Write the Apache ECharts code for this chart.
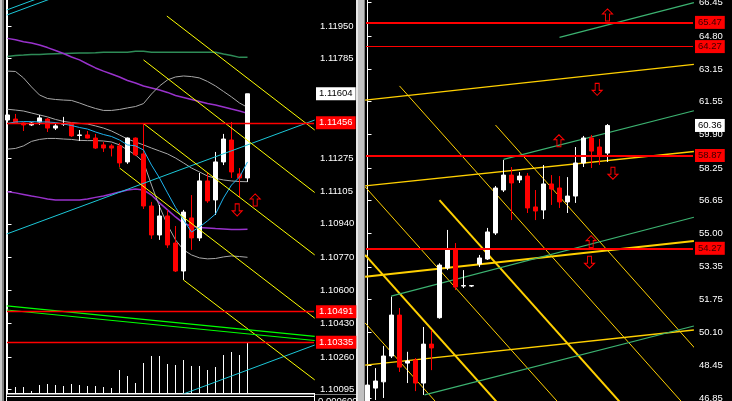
<!DOCTYPE html>
<html><head><meta charset="utf-8">
<script src="https://cdn.jsdelivr.net/npm/echarts@6/dist/echarts.min.js"></script>
<style>html,body{margin:0;padding:0;background:#000;overflow:hidden}#c{width:732px;height:401px}</style>
</head><body><div id="c"></div>
<script>
// ================= LEFT PANE DATA (price ~1.10-1.12) =================
const leftOpen  = [1.11470,1.11475,1.11455,1.11445,1.11460,1.11475,1.11429,1.11450,1.11455,1.11391,1.11394,1.11378,1.11343,1.11338,1.11338,1.11256,1.11378,1.11297,1.11031,1.10883,1.10980,1.10842,1.10699,1.10970,1.10868,1.11159,1.11062,1.11256,1.11368,1.11195,1.11174];
const leftClose = [1.11496,1.11455,1.11445,1.11455,1.11481,1.11429,1.11440,1.11451,1.11389,1.11394,1.11378,1.11327,1.11327,1.11327,1.11251,1.11378,1.11292,1.11031,1.10883,1.10980,1.10832,1.10699,1.11000,1.10868,1.11159,1.11057,1.11256,1.11373,1.11205,1.11174,1.11604];
const leftLow   = [1.11465,1.11452,1.11414,1.11440,1.11445,1.11409,1.11419,1.11440,1.11384,1.11363,1.11376,1.11322,1.11307,1.11284,1.11230,1.11246,1.11286,1.11016,1.10863,1.10858,1.10817,1.10694,1.10653,1.10807,1.10852,1.11047,1.10985,1.11240,1.11174,1.11077,1.11154];
const leftHigh  = [1.11506,1.11501,1.11460,1.11460,1.11496,1.11481,1.11455,1.11486,1.11457,1.11419,1.11414,1.11399,1.11358,1.11348,1.11353,1.11381,1.11381,1.11455,1.11052,1.11036,1.11011,1.10929,1.11011,1.11087,1.11200,1.11200,1.11307,1.11399,1.11460,1.11225,1.11604];
const leftVolume = [100,60,60,20,80,90,80,70,90,80,70,70,60,50,230,170,100,300,370,370,290,280,330,270,270,230,260,380,410,380,510];
// indicator lines (one value per candle)
const leftMaPurpleHigh = [1.11887,1.11880,1.11870,1.11863,1.11853,1.11840,1.11825,1.11810,1.11792,1.11777,1.11756,1.11736,1.11720,1.11705,1.11690,1.11672,1.11659,1.11644,1.11634,1.11623,1.11611,1.11595,1.11585,1.11575,1.11565,1.11554,1.11547,1.11537,1.11526,1.11516,1.11504];
const leftMaGreen = [1.11794,1.11800,1.11802,1.11805,1.11805,1.11807,1.11809,1.11810,1.11811,1.11812,1.11812,1.11813,1.11816,1.11816,1.11816,1.11816,1.11821,1.11821,1.11816,1.11816,1.11816,1.11816,1.11816,1.11816,1.11816,1.11816,1.11816,1.11807,1.11800,1.11790,1.11790];
const leftBandUpper = [1.11720,1.11718,1.11685,1.11639,1.11598,1.11580,1.11575,1.11572,1.11570,1.11557,1.11542,1.11529,1.11519,1.11519,1.11524,1.11532,1.11539,1.11554,1.11603,1.11644,1.11675,1.11690,1.11695,1.11692,1.11685,1.11667,1.11644,1.11616,1.11588,1.11557,1.11535];
const leftBandMiddle = [1.11525,1.11521,1.11516,1.11506,1.11496,1.11486,1.11473,1.11463,1.11457,1.11453,1.11450,1.11440,1.11429,1.11414,1.11394,1.11373,1.11358,1.11343,1.11327,1.11312,1.11297,1.11276,1.11251,1.11225,1.11205,1.11184,1.11172,1.11164,1.11159,1.11156,1.11155];
const leftBandLower = [1.11321,1.11325,1.11338,1.11361,1.11371,1.11376,1.11376,1.11373,1.11371,1.11366,1.11365,1.11365,1.11363,1.11358,1.11343,1.11317,1.11292,1.11256,1.11138,1.11028,1.10934,1.10858,1.10807,1.10781,1.10766,1.10761,1.10763,1.10771,1.10776,1.10773,1.10769];
const leftMaBlue = [1.11453,1.11460,1.11462,1.11462,1.11460,1.11460,1.11457,1.11450,1.11442,1.11432,1.11424,1.11409,1.11396,1.11386,1.11368,1.11343,1.11338,1.11317,1.11240,1.11174,1.11098,1.11024,1.10960,1.10898,1.10924,1.10955,1.10990,1.11072,1.11138,1.11179,1.11256];
const leftMaPurpleLow = [1.11104,1.11098,1.11090,1.11082,1.11075,1.11067,1.11062,1.11062,1.11062,1.11062,1.11067,1.11075,1.11082,1.11092,1.11103,1.11113,1.11118,1.11113,1.11087,1.11047,1.11011,1.10975,1.10944,1.10927,1.10921,1.10919,1.10916,1.10914,1.10911,1.10911,1.10912];
// trend lines [x1, price1, x2, price2] in candle index / price units
const leftCyanLines = [[-0.1,1.10888,38.4,1.11470],[16.0,1.09980,38.4,1.10321],[-0.1,1.12006,10,1.12159],[-0.1,1.12032,10,1.12185]];
const leftYellowLines = [[19.92,1.12001,38.4,1.11419],[17.0,1.11777,38.4,1.11100],[17.0,1.11452,38.4,1.10781],[14.0,1.11225,38.4,1.10458],[22.0,1.10653,38.4,1.10143]];
const leftLimeLines = [[-0.1,1.10521,38.4,1.10365],[-0.1,1.10500,38.4,1.10344]];
const leftLevels = [1.11456,1.10491,1.10335];
const leftLastPrice = 1.11604;
const leftTicks = [1.11950,1.11785,1.11275,1.11105,1.10940,1.10770,1.10600,1.10430,1.10260,1.10095];
const leftArrowsUp = [[30.96,1.11062]];
const leftArrowsDown = [[28.71,1.11011]];

// ================= RIGHT PANE DATA (price ~47-66) =================
const rightOpen  = [46.60,47.34,47.65,48.93,50.96,48.58,48.73,47.59,49.52,50.83,53.29,54.23,52.40,52.40,53.49,53.74,55.03,57.16,57.90,57.66,57.85,56.32,56.17,57.46,57.26,56.57,56.86,58.50,59.74,59.29,58.99];
const rightClose = [47.49,47.69,48.93,50.96,48.38,48.68,47.59,49.52,49.33,53.44,54.23,52.35,52.42,52.42,53.79,55.08,57.26,57.90,57.51,57.85,56.27,56.12,57.46,57.21,56.57,56.86,58.50,59.74,59.09,58.85,60.36];
const rightLow   = [46.50,46.75,46.85,48.83,48.14,47.59,47.19,47.00,48.23,50.78,53.19,52.20,52.30,52.35,53.34,53.69,54.93,57.06,55.67,57.51,56.02,55.67,55.72,56.42,56.27,56.02,56.52,58.30,58.25,58.40,58.55];
const rightHigh  = [47.59,48.33,49.43,51.87,51.31,49.14,48.83,50.37,50.22,53.53,55.18,54.53,53.19,52.45,53.94,55.28,57.36,58.65,58.30,58.05,58.00,57.16,58.40,57.90,57.85,57.80,59.29,59.84,59.89,59.69,60.43];
const rightGreenLines = [[24.0,64.73,40.8,66.45],[17.0,58.68,40.8,61.09],[2.96,51.90,40.8,55.81],[7.13,47.00,40.8,50.42]];
const rightGoldRising = [[-0.3,61.62,40.8,63.39],[-0.3,57.36,40.8,59.07],[-0.3,48.48,40.8,50.22]];
const rightGoldRisingThick = [[-0.3,52.86,40.8,54.63]];
const rightGoldFalling = [[16.0,60.38,41,49.28],[4.0,62.32,41,45.89],[-0.3,57.32,41,39.03],[-0.3,50.57,41,32.28]];
const rightGoldFallingThick = [[9.0,56.66,41,42.45],[-0.3,53.94,41,35.65]];
const rightLevels = [65.47,64.27,58.87,54.27];
const rightLevelWidths = [2,1.2,2,2];
const rightLastPrice = 60.36;
const rightTicks = [66.45,64.80,63.15,61.55,59.90,58.25,56.65,55.00,53.35,51.75,50.10,48.45,46.85];
const rightArrowsUp = [[30.0,65.84],[23.93,59.60],[27.96,54.60]];
const rightArrowsDown = [[28.71,62.15],[30.68,57.99],[27.75,53.58]];

// ================= BUILD =================
const FONT = 'Liberation Sans';
const UP = 'path://M5,0L10,5L7,5L7,12L3,12L3,5L0,5Z';
const DOWN = 'path://M3,0L7,0L7,7L10,7L5,12L0,7L3,7Z';
const chart = echarts.init(document.getElementById('c'));

function candles(o,c,l,h){ return o.map((v,i)=>[i,v,c[i],l[i],h[i]]); }
function perCandle(a){ return a.map((v,i)=>[i,v]); }
function lineSeries(xi, data, color, width, z){
  return {type:'line', xAxisIndex:xi, yAxisIndex:xi, data, symbol:'none', silent:true,
    animation:false, clip:true, z:z||4, lineStyle:{color, width}};
}
function segs(xi, list, color, width, z){
  return list.map(s=>lineSeries(xi, [[s[0],s[1]],[s[2],s[3]]], color, width, z));
}
function levelLabel(text,bg,fg){
  return {show:true, position:'end', distance:2, formatter:text, color:fg, backgroundColor:bg,
    padding:[2,3,1,3], fontSize:9.5, fontFamily:FONT};
}
function arrows(list, sym){
  return list.map(a=>({coord:[a[0],a[1]], symbol:sym, symbolSize:[10,12],
    itemStyle:{color:'rgba(0,0,0,0)', borderColor:'#ff0000', borderWidth:1}, label:{show:false}}));
}
function annotations(xi, levels, widths, digits, labelFg, last, up, down){
  return {type:'line', xAxisIndex:xi, yAxisIndex:xi, data:[], symbol:'none', silent:true, animation:false, z:6,
    markLine:{symbol:'none', silent:true, animation:false, precision:digits, data:[
      ...levels.map((v,i)=>({yAxis:v, lineStyle:{color:'#ff0000', width:widths[i], type:'solid'}, label:levelLabel(v.toFixed(digits),'#ff0000',labelFg)})),
      {yAxis:last, lineStyle:{color:'rgba(0,0,0,0)', width:0}, label:levelLabel(last.toFixed(digits),'#ffffff','#000000')}
    ]},
    markPoint:{silent:true, animation:false, precision:digits, data:[...arrows(up,UP), ...arrows(down,DOWN)]}
  };
}

const candleStyle = {color:'#ffffff', color0:'#ff0000', borderColor:'#ffffff', borderColor0:'#ff0000', borderWidth:1};
const axisLabelBase = {color:'#ffffff', fontSize:9.5, fontFamily:FONT, margin:6};

const option = {
  backgroundColor:'#000000',
  animation:false,
  grid:[
    {left:7, top:0, width:307, height:393, containLabel:false, outerBoundsMode:'none'},
    {left:7, top:342, width:307, height:51, containLabel:false, outerBoundsMode:'none'},
    {left:366, top:0, width:327, height:401, containLabel:false, outerBoundsMode:'none'}
  ],
  xAxis:[
    {type:'value', gridIndex:0, min:-0.0625, max:38.3125, axisLine:{show:true, onZero:false, lineStyle:{color:'#fff'}}, axisTick:{show:false}, axisLabel:{show:false}, splitLine:{show:false}},
    {type:'value', gridIndex:1, min:-0.0625, max:38.3125, show:false},
    {type:'value', gridIndex:2, min:-0.1875, max:40.6875, show:false}
  ],
  yAxis:[
    {type:'value', gridIndex:0, position:'right', min:1.10076, max:1.12083, splitLine:{show:false},
     axisLine:{show:true, lineStyle:{color:'#fff'}},
     axisTick:{show:true, length:4, lineStyle:{color:'#fff'}, customValues:leftTicks},
     axisLabel:Object.assign({customValues:leftTicks, formatter:v=>v.toFixed(5)}, axisLabelBase)},
    {type:'value', gridIndex:1, min:0, max:510, show:false},
    {type:'value', gridIndex:2, position:'right', min:46.70, max:66.58, splitLine:{show:false},
     axisLine:{show:true, lineStyle:{color:'#fff'}},
     axisTick:{show:true, length:4, lineStyle:{color:'#fff'}, customValues:rightTicks},
     axisLabel:Object.assign({customValues:rightTicks, formatter:v=>v.toFixed(2)}, axisLabelBase)}
  ],
  series:[]
};

const S = option.series;
// left indicator lines
S.push(lineSeries(0, perCandle(leftMaGreen), '#2e8b57', 1.5, 3));
S.push(lineSeries(0, perCandle(leftMaPurpleHigh), '#9932cc', 1.5, 3));
S.push(lineSeries(0, perCandle(leftMaPurpleLow), '#9932cc', 1.5, 3));
S.push(lineSeries(0, perCandle(leftBandUpper), '#a8a8a8', 1, 3));
S.push(lineSeries(0, perCandle(leftBandMiddle), '#a8a8a8', 1, 3));
S.push(lineSeries(0, perCandle(leftBandLower), '#a8a8a8', 1, 3));
S.push(lineSeries(0, perCandle(leftMaBlue), '#1eb4f0', 1, 4));
S.push(...segs(0, leftCyanLines, '#1cc8d8', 1, 4));
S.push(...segs(0, leftYellowLines, '#ffff00', 1, 4));
S.push(...segs(0, leftLimeLines, '#00ff00', 1.2, 4));
// left candles
S.push({type:'candlestick', xAxisIndex:0, yAxisIndex:0, data:candles(leftOpen,leftClose,leftLow,leftHigh),
  encode:{x:0,y:[1,2,3,4]}, barWidth:5, itemStyle:candleStyle, z:3, silent:true, animation:false});
S.push(annotations(0, leftLevels, [1.4,1.4,1.4], 5, '#ffffff', leftLastPrice, leftArrowsUp, leftArrowsDown));
// left volume
S.push({type:'bar', xAxisIndex:1, yAxisIndex:1, data:perCandle(leftVolume), barWidth:1, itemStyle:{color:'#ffffff'}, silent:true, animation:false});

// right pane lines
S.push(...segs(2, rightGoldFalling, '#ffd000', 1, 3));
S.push(...segs(2, rightGoldFallingThick, '#ffd000', 2, 3));
S.push(...segs(2, rightGoldRising, '#ffd000', 1.3, 3));
S.push(...segs(2, rightGoldRisingThick, '#ffd000', 2, 3));
S.push(...segs(2, rightGreenLines, '#3cb371', 1.2, 3));
S.push({type:'candlestick', xAxisIndex:2, yAxisIndex:2, data:candles(rightOpen,rightClose,rightLow,rightHigh),
  encode:{x:0,y:[1,2,3,4]}, barWidth:5, itemStyle:candleStyle, z:4, silent:true, animation:false});
S.push(annotations(2, rightLevels, rightLevelWidths, 2, '#3a0000', rightLastPrice, rightArrowsUp, rightArrowsDown));

// window frame decorations
option.graphic = [
  {type:'rect', shape:{x:0,y:0,width:2,height:401}, style:{fill:'#c8c8c8'}, silent:true},
  {type:'rect', shape:{x:2,y:0,width:2,height:401}, style:{fill:'#808080'}, silent:true},
  {type:'rect', shape:{x:6,y:0,width:1,height:401}, style:{fill:'#ffffff'}, silent:true},
  {type:'rect', shape:{x:356,y:0,width:2,height:401}, style:{fill:'#e8e8e8'}, silent:true},
  {type:'rect', shape:{x:358,y:0,width:6,height:401}, style:{fill:'#c0c0c0'}, silent:true},
  {type:'rect', shape:{x:364,y:0,width:1,height:401}, style:{fill:'#808080'}, silent:true},
  {type:'rect', shape:{x:7,y:394,width:349,height:1}, style:{fill:'#808080'}, silent:true},
  {type:'rect', shape:{x:7,y:396,width:307,height:1}, style:{fill:'#ffffff'}, silent:true},
  {type:'rect', shape:{x:314,y:393,width:1,height:8}, style:{fill:'#ffffff'}, silent:true},
  {type:'text', left:318, top:396, style:{text:'0.000600', fill:'#ffffff', font:'9.5px "Liberation Sans"'}, silent:true}
];

chart.setOption(option);
</script>
</body></html>
